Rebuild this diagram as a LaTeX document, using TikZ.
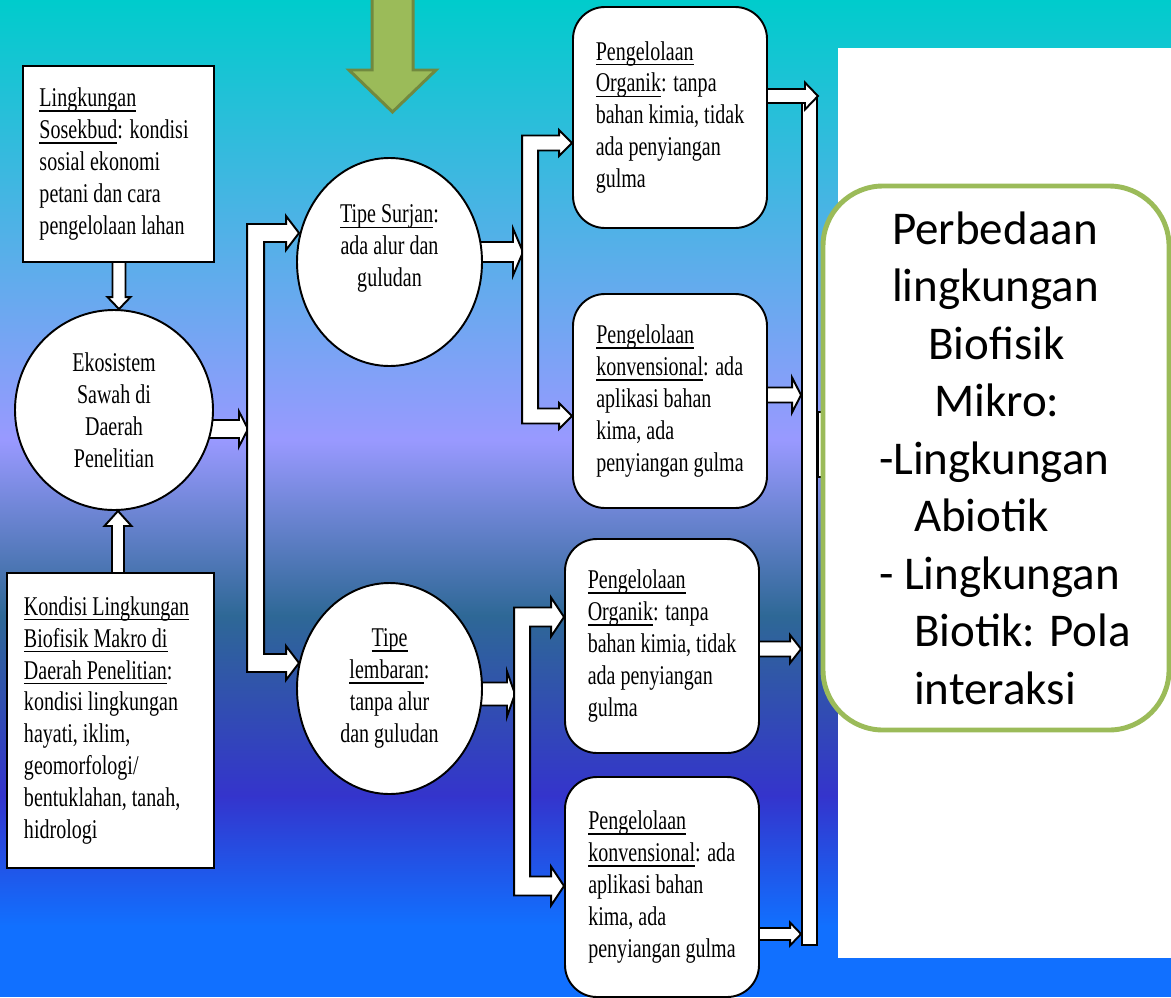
\documentclass[tikz,border=0pt]{standalone}
\usepackage{fontspec}
\usepackage{xcolor}
\usepackage{tikz}
\usetikzlibrary{calc,shapes.geometric}
\newfontfamily\timesfont[FakeStretch=0.74]{Liberation Serif}
\newfontfamily\calfont{Carlito}
\definecolor{bgcyan}{RGB}{0,204,204}
\definecolor{bglav}{RGB}{153,153,255}
\definecolor{bgteal}{RGB}{46,104,150}
\definecolor{bgind}{RGB}{52,52,204}
\definecolor{bgblue}{RGB}{17,112,255}
\definecolor{leafgreen}{RGB}{155,187,89}
\definecolor{leafdark}{RGB}{113,137,63}
\pgfdeclarelayer{back}
\pgfdeclarelayer{links}
\pgfsetlayers{back,links,main}

\newsavebox\ulbox
\newcommand{\ulin}[1]{\leavevmode\sbox\ulbox{#1}\rlap{\rule[-3pt]{\wd\ulbox}{0.9pt}}\usebox\ulbox}
% block arrows: tail, tip, shaft half, head half, head length
\newcommand{\rblock}[5]{%
  \path (#1) coordinate (ta) (#2) coordinate (tb);
  \draw[blk] ($(ta|-tb)+(0,-#3)$) -- ($(tb)+(-#5,-#3)$) -- ($(tb)+(-#5,-#4)$) -- (tb)
    -- ($(tb)+(-#5,#4)$) -- ($(tb)+(-#5,#3)$) -- ($(ta|-tb)+(0,#3)$) -- cycle;}
\newcommand{\dblock}[5]{%
  \path (#1) coordinate (ta) (#2) coordinate (tb);
  \draw[blk] ($(tb|-ta)+(-#3,0)$) -- ($(tb)+(-#3,-#5)$) -- ($(tb)+(-#4,-#5)$) -- (tb)
    -- ($(tb)+(#4,-#5)$) -- ($(tb)+(#3,-#5)$) -- ($(tb|-ta)+(#3,0)$) -- cycle;}
\newcommand{\ublock}[5]{%
  \path (#1) coordinate (ta) (#2) coordinate (tb);
  \draw[blk] ($(tb|-ta)+(-#3,0)$) -- ($(tb)+(-#3,#5)$) -- ($(tb)+(-#4,#5)$) -- (tb)
    -- ($(tb)+(#4,#5)$) -- ($(tb)+(#3,#5)$) -- ($(tb|-ta)+(#3,0)$) -- cycle;}
% fork: tip A, tip B, bar offset, bar width, shaft half, head half, head length
\newcommand{\forkblock}[7]{%
  \path (#1) coordinate (fa) (#2) coordinate (fb);
  \draw[blk] ($(fa)+(-#3,-#5)$) -- ($(fa)+(-#7,-#5)$) -- ($(fa)+(-#7,-#6)$) -- (fa)
    -- ($(fa)+(-#7,#6)$) -- ($(fa)+(-#7,#5)$) -- ($(fa)+(-#3+#4,#5)$)
    -- ($(fb)+(-#3+#4,-#5)$) -- ($(fb)+(-#7,-#5)$) -- ($(fb)+(-#7,-#6)$) -- (fb)
    -- ($(fb)+(-#7,#6)$) -- ($(fb)+(-#7,#5)$) -- ($(fb)+(-#3,#5)$) -- cycle;}

\begin{document}
\begin{tikzpicture}[x=0.2mm,y=-0.2mm,
    blk/.style={draw=black,fill=white,line width=1.1pt},
    txt/.style={font=\timesfont\fontsize{15.4}{18.2}\selectfont},
    sqbox/.style={txt,draw,fill=white,line width=1.1pt,inner sep=0pt,align=flush left},
    rbox/.style={txt,draw,fill=white,line width=1.1pt,rounded corners=0.64cm,inner sep=0pt,align=left,minimum width=3.88cm},
    oval/.style={txt,ellipse,draw,fill=white,line width=1.1pt,inner sep=0pt,align=center,minimum width=3.7cm},
    gbox/.style={draw=leafgreen,line width=2.8pt,fill=white,rounded corners=1.2cm,inner sep=0pt,align=left,font=\calfont\fontsize{26.75}{32.7}\selectfont},
    bar/.style={draw,fill=white,line width=1.1pt,inner sep=0pt}]
    \useasboundingbox (0,0) rectangle (1171,997);
    \begin{pgfonlayer}{back}
        \shade[top color=bgcyan,bottom color=bglav] (0,0) rectangle (1171,441);
        \shade[top color=bglav,bottom color=bgteal] (0,440) rectangle (1171,616);
        \shade[top color=bgteal,bottom color=bgind] (0,615) rectangle (1171,796);
        \shade[top color=bgind,bottom color=bgblue] (0,795) rectangle (1171,926);
        \fill[bgblue] (0,925) rectangle (1171,997);
        \fill[white] (838,48) rectangle (1171,958);
    \end{pgfonlayer}

    \draw[fill=leafgreen,draw=leafdark,line width=1.7pt] (372,-6) -- (372,70) -- (349,70) -- (392.5,112) -- (436,70) -- (413,70) -- (413,-6) -- cycle;

    \node[sqbox,text width=3.16cm,minimum width=3.82cm,minimum height=3.92cm] (sosek) at (118.5,164)
        {\ulin{Lingkungan}\\ \ulin{Sosekbud}: kondisi\\ sosial ekonomi\\ petani dan cara\\ pengelolaan lahan};
    \node[oval,minimum width=3.96cm,minimum height=4cm] (eko) at (114,410) {Ekosistem\\ Sawah di\\ Daerah\\ Penelitian};
    \node[sqbox,text width=3.46cm,minimum width=4.14cm,minimum height=5.9cm] (makro) at (110.5,720.5)
        {\ulin{Kondisi Lingkungan}\\ \ulin{Biofisik Makro di}\\ \ulin{Daerah Penelitian}:\\ kondisi lingkungan\\ hayati, iklim,\\ geomorfologi/\\ bentuklahan, tanah,\\ hidrologi};

    \node[oval,minimum height=4.16cm] (surjan) at (389.5,262) {\ulin{Tipe Surjan}:\\ ada alur dan\\ guludan\\ \mbox{}};
    \node[oval,minimum height=4.22cm] (lembar) at (389.5,688.5) {\ulin{Tipe}\\ \ulin{lembaran}:\\ tanpa alur\\ dan guludan};

    \node[rbox,minimum height=4.42cm] (orga) at (670,117.5)
        {\ulin{Pengelolaan}\\ \ulin{Organik}: tanpa\\ bahan kimia, tidak\\ ada penyiangan\\ gulma};
    \node[rbox,minimum height=4.28cm] (konva) at (670,401)
        {\ulin{Pengelolaan}\\ \ulin{konvensional}: ada\\ aplikasi bahan\\ kima, ada\\ penyiangan gulma};
    \node[rbox,minimum height=4.28cm] (orgb) at (662,646)
        {\ulin{Pengelolaan}\\ \ulin{Organik}: tanpa\\ bahan kimia, tidak\\ ada penyiangan\\ gulma};
    \node[rbox,minimum height=4.4cm] (konvb) at (662,887)
        {\ulin{Pengelolaan}\\ \ulin{konvensional}: ada\\ aplikasi bahan\\ kima, ada\\ penyiangan gulma};

    \node[gbox,minimum width=6.92cm,minimum height=10.88cm] (mikro) at (996,458)
        {\hspace*{0.62cm}Perbedaan\\ \hspace*{0.62cm}lingkungan\\ \hspace*{1.34cm}Biofisik\\ \hspace*{1.46cm}Mikro:\\
         \hspace*{0.36cm}-Lingkungan\\ \hspace*{1.06cm}Abiotik\\ \hspace*{0.36cm}- Lingkungan\\ \hspace*{1.06cm}Biotik: Pola\\ \hspace*{1.06cm}interaksi};

    \begin{pgfonlayer}{links}
        \coordinate (lbar) at (248,429);
        \coordinate (urbar) at (523,252);
        \coordinate (lrbar) at (515,694);
        \node[bar,minimum width=0.3cm,minimum height=16.96cm] (rbar) at (809.5,521) {};
        \dblock{sosek}{$(eko.north)+(5,0)$}{6.5}{11.5}{12}
        \ublock{makro}{$(eko.south)+(4,0)$}{6}{13.5}{15}
        \rblock{eko}{lbar}{9}{17.5}{9}
        \forkblock{$(surjan.west)+(3,-29)$}{$(lembar.west)+(3,-25.5)$}{52}{17}{9}{17}{13}
        \rblock{surjan}{urbar}{10}{23.5}{10}
        \rblock{lembar}{lrbar}{11.5}{22.5}{8}
        \forkblock{$(orga.west)+(0,25.5)$}{$(konva.west)+(0,15)$}{50}{16}{7.5}{13}{13}
        \forkblock{$(orgb.west)+(0,-29)$}{$(konvb.west)+(0,-1)$}{50}{16}{9.5}{19.5}{13}
        \rblock{orga}{rbar.north east}{7}{13.5}{13}
        \rblock{konva}{$(rbar.west|-konva)+(0,-6)$}{7.5}{17.5}{9}
        \rblock{orgb}{$(rbar.west|-orgb)+(0,3)$}{7.5}{14}{11}
        \rblock{konvb}{$(rbar.west|-konvb)+(0,47)$}{6}{11.5}{11}
        \rblock{rbar.east}{$(mikro.west)+(40,-13.5)$}{32.5}{45}{20}
    \end{pgfonlayer}
\end{tikzpicture}
\end{document}
